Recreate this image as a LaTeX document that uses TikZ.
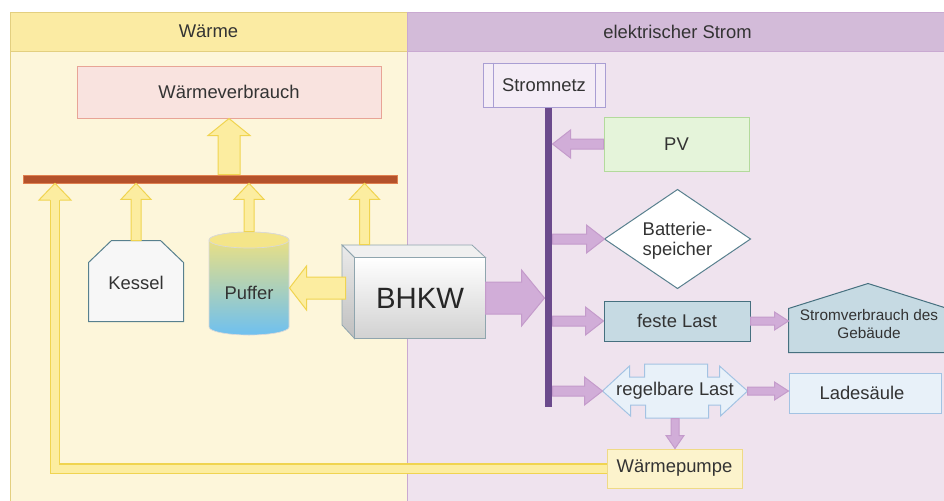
\documentclass[tikz,border=0pt]{standalone}
\usepackage{fontspec}
\setmainfont{Liberation Sans}
\usetikzlibrary{calc,fit}
\definecolor{wbody}{HTML}{FDF6DA}
\definecolor{whead}{HTML}{FBEBA3}
\definecolor{wborder}{HTML}{E3CF80}
\definecolor{ebody}{HTML}{EFE3EE}
\definecolor{ehead}{HTML}{D3BBD9}
\definecolor{eborder}{HTML}{C9A9D1}
\definecolor{yfill}{HTML}{FCEDA0}
\definecolor{ydraw}{HTML}{F0D450}
\definecolor{pfill}{HTML}{D1ADD8}
\definecolor{pdraw}{HTML}{C49BCB}
\definecolor{barc}{HTML}{B4522B}
\definecolor{barb}{HTML}{E08050}
\definecolor{busc}{HTML}{6B4A8C}
\definecolor{wvfill}{HTML}{F9E3DF}
\definecolor{wvdraw}{HTML}{E8A496}
\definecolor{snfill}{HTML}{F4ECF6}
\definecolor{sndraw}{HTML}{A99ED3}
\definecolor{pvfill}{HTML}{E5F4DA}
\definecolor{pvdraw}{HTML}{B3DA9C}
\definecolor{teal}{HTML}{58808E}
\definecolor{flfill}{HTML}{C6DAE3}
\definecolor{fldraw}{HTML}{46707F}
\definecolor{rlfill}{HTML}{E8F1F9}
\definecolor{rldraw}{HTML}{A3C3E3}
\definecolor{wpfill}{HTML}{FCF3CC}
\definecolor{wpdraw}{HTML}{EFDA86}
\definecolor{txt}{HTML}{333333}
\definecolor{cyltop}{HTML}{F3E27C}
\definecolor{cylbot}{HTML}{6EC0F0}
\definecolor{cubeline}{HTML}{8FA5AE}

\newcommand\barrow[6]{%
  \pgfmathsetmacro\baS{#4*0.75}\pgfmathsetmacro\baH{#5*0.75}\pgfmathsetmacro\baL{#6*0.75}%
  \coordinate (baA) at (#2);
  \coordinate (baB) at (#3);
  \coordinate (baM) at ($(baB)!\baL pt!(baA)$);
  \draw[#1] ($(baA)!\baS pt!90:(baB)$) -- ($(baM)!\baS pt!90:(baB)$) -- ($(baM)!\baH pt!90:(baB)$) -- (baB)
    -- ($(baM)!\baH pt!-90:(baB)$) -- ($(baM)!\baS pt!-90:(baB)$) -- ($(baA)!\baS pt!-90:(baB)$) -- cycle;
}

\begin{document}
\begin{tikzpicture}[x=0.75pt,y=-0.75pt,
  font=\fontsize{13.8}{16}\selectfont, text=txt,
  every node/.style={inner sep=0pt},
  fitbox/.style={inner sep=0pt, line width=0.75pt},
  yarr/.style={fill=yfill, draw=ydraw, line width=0.75pt, line join=miter},
  parr/.style={fill=pfill, draw=pdraw, line width=0.75pt, line join=miter},
  yline/.style={draw=ydraw, double=yfill, line width=0.8pt, double distance=6pt},
]
\clip (0,0) rectangle (944,500);
\fill[white] (0,0) rectangle (944,500);

% pools
\draw[fill=wbody, draw=wborder, line width=0.75pt] (10,12) rectangle (407,510);
\draw[fill=ebody, draw=eborder, line width=0.75pt] (407,12) rectangle (960,510);
\node[fitbox, fill=whead, draw=wborder, fit={(10,12) (407,51)}] (hw) {};
\node[fitbox, fill=ehead, draw=eborder, fit={(407,12) (960,51)}] (he) {};
\node at (hw.center) (hwt) {Wärme};
\node at ($(he.center)+(-6,0)$) (het) {elektrischer Strom};

% nodes (geometry)
\node[fitbox, fill=wvfill, draw=wvdraw, fit={(77,66) (381,118)}] (wv) {};
\node[fitbox, fill=barc, draw=barb, line width=0.5pt, fit={(23,175) (397,183)}] (bar) {};
\node[fitbox, fit={(89,241) (183,321)}] (kessel) {};
\node[fitbox, fit={(209,232) (289,335)}] (puf) {};
\node[fitbox, fit={(355,258) (485,338)}] (bhkw) {};
\node[fitbox, fill=busc, fit={(545,107) (552,407)}] (bus) {};
\node[fitbox, fill=snfill, draw=sndraw, fit={(483,63) (605,107)}] (sn) {};
\node[fitbox, fill=pvfill, draw=pvdraw, fit={(604,117) (749,171)}] (pv) {};
\node[fitbox, fit={(605,190) (750,288)}] (bat) {};
\node[fitbox, fill=flfill, draw=fldraw, fit={(604,301) (750,341)}] (fl) {};
\node[fitbox, fit={(789,284) (947,352)}] (sv) {};
\node[fitbox, fit={(603,364) (747,418)}] (rl) {};
\node[fitbox, fill=rlfill, draw=rldraw, fit={(789,373) (941,413)}] (ls) {};
\node[fitbox, fill=wpfill, draw=wpdraw, fit={(607,449) (742,488)}] (wp) {};

\node at (wv.center) (wvt) {Wärmeverbrauch};
\node at (sn.center) (snt) {Stromnetz};
\node at (pv.center) (pvt) {PV};
\node at (fl.center) (flt) {feste Last};
\node at ($(ls.center)+(-3,0)$) (lst) {Ladesäule};
\node at (wp.center) (wpt) {Wärmepumpe};

% loop line from Waermepumpe to bar
\coordinate (lpb) at (55,200);
\draw[yline] (wp.west) -| (lpb);
\filldraw[yarr] ($(lpb)+(5,0)$) -- ($(lpb)+(16,0)$) -- (bar.south -| lpb) -- ($(lpb)+(-16,0)$) -- ($(lpb)+(-5,0)$);

% Kessel
\draw[fill=white!97!black, draw=teal, line width=0.75pt] (kessel.south west) -- ($(kessel.north west)+(0,22)$) -- ($(kessel.north west)+(23,0)$) -- ($(kessel.north east)+(-23,0)$) -- ($(kessel.north east)+(0,22)$) -- (kessel.south east) -- cycle;
\node at ($(kessel.center)+(0,2)$) (kt) {Kessel};

% Puffer cylinder
\shade[top color=cyltop, bottom color=cylbot, draw=white!85!black, line width=0.5pt]
  (209,240) -- (209,327) arc (180:0:40 and 8) -- (289,240) arc (0:-180:40 and 8) -- cycle;
\filldraw[fill=cyltop!90!white, draw=white!85!black, line width=0.5pt] (249,240) ellipse (40 and 8);
\node at (249,293) (pt) {Puffer};

% BHKW cube
\filldraw[fill=white!94!black, draw=cubeline, line width=0.6pt] (342,245) -- (472,245) -- (bhkw.north east) -- (bhkw.north west) -- cycle;
\shade[top color=white!92!black, bottom color=white!75!black, draw=cubeline, line width=0.6pt] (342,245) -- (bhkw.north west) -- (bhkw.south west) -- (342,325) -- cycle;
\shade[top color=white, bottom color=white!82!black, draw=cubeline, line width=0.6pt] (bhkw.north west) rectangle (bhkw.south east);
\node[font=\fontsize{22}{26}\selectfont, text=black!85] at (bhkw.center) (bt) {BHKW};

% heat arrows
\coordinate (bhkwtop) at ($(bhkw.north west)+(10,-13)$);
\coordinate (bhkwl) at ($(bhkw.west)+(-9,-10)$);
\barrow{yarr}{bar.north -| wv.south}{wv.south}{11}{21}{17}
\barrow{yarr}{kessel.north}{bar.south -| kessel.north}{5}{15}{16}
\barrow{yarr}{puf.north}{bar.south -| puf.north}{5}{15}{16}
\barrow{yarr}{bhkwtop}{bar.south -| bhkwtop}{5}{15}{16}
\barrow{yarr}{bhkwl}{puf.east |- bhkwl}{11}{22}{17}

% Stromnetz side lines
\draw[sndraw, line width=0.75pt] ($(sn.north west)+(11,0)$) -- ($(sn.south west)+(11,0)$);
\draw[sndraw, line width=0.75pt] ($(sn.north east)+(-10,0)$) -- ($(sn.south east)+(-10,0)$);

% Batteriespeicher diamond
\draw[fill=white, draw=teal, line width=0.75pt] (bat.west) -- (bat.north) -- (bat.east) -- (bat.south) -- cycle;
\node[align=center, font=\fontsize{13.8}{15}\selectfont] at ($(bat.center)+(0,2)$) (btt) {Batterie-\\speicher};

% Stromverbrauch house
\draw[fill=flfill, draw=fldraw, line width=0.75pt] (sv.south west) -- ($(sv.south west)+(0,-44)$) -- (sv.north) -- ($(sv.south east)+(0,-44)$) -- (sv.south east) -- cycle;
\node[align=center, font=\fontsize{11.5}{13.5}\selectfont] at (869,324) (svt) {Stromverbrauch des\\Gebäude};

% regelbare Last
\draw[fill=rlfill, draw=rldraw, line width=0.75pt] (rl.west) -- ++(27,-25) -- ++(0,11) -- ++(15,0) -- ++(0,-13) -- ++(63,0) -- ++(0,13) -- ++(12,0) -- ++(0,-11) -- (rl.east) -- ++(-27,25) -- ++(0,-11) -- ++(-12,0) -- ++(0,13) -- ++(-63,0) -- ++(0,-13) -- ++(-15,0) -- ++(0,11) -- cycle;
\node at (rl.center) (rlt) {regelbare Last};

% electric arrows
\barrow{parr}{bhkw.east}{bus.west |- bhkw.east}{16}{28}{23}
\barrow{parr}{pv.west}{bus.east |- pv.west}{5}{14}{18}
\barrow{parr}{bus.east |- bat.west}{bat.west}{5}{14}{18}
\barrow{parr}{bus.east |- fl.west}{fl.west}{5}{14}{18}
\barrow{parr}{bus.east |- rl.west}{rl.west}{5}{14}{18}
\barrow{parr}{fl.east}{sv.west |- fl.east}{4}{9}{14}
\barrow{parr}{rl.east}{ls.west |- rl.east}{4}{9}{14}
\barrow{parr}{rl.south}{wp.north -| rl.south}{4}{9}{13}
\end{tikzpicture}
\end{document}
